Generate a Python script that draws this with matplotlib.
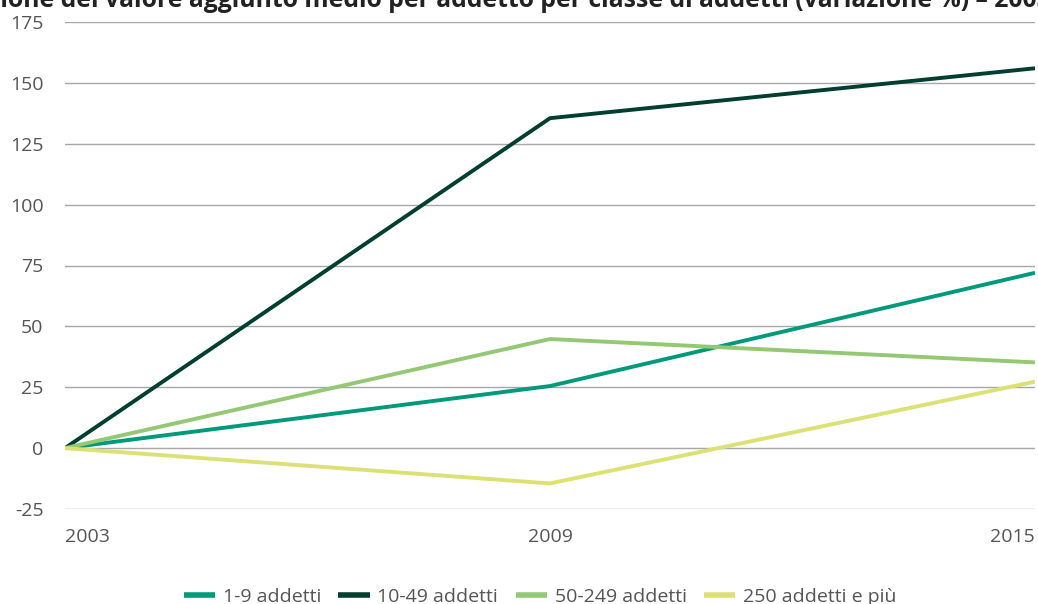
import matplotlib
matplotlib.use("Agg")
import matplotlib.pyplot as plt

plt.rcParams['font.family'] = ['Open Sans', 'DejaVu Sans']

years = [2003, 2009, 2015]
series_names = ["1-9 addetti", "10-49 addetti", "50-249 addetti", "250 addetti e più"]
s_1_9 = [0, 25.5, 72]
s_10_49 = [0, 135.5, 156]
s_50_249 = [0, 44.8, 35.2]
s_250 = [0, -14.5, 27.3]
colors = ["#00997A", "#003E2F", "#94C874", "#DCE176"]
yticks = [-25, 0, 25, 50, 75, 100, 125, 150, 175]
title_prefix = "Evoluz"
title_visible = "ione del valore aggiunto medio per addetto per classe di addetti (variazione %) – 200"
title_suffix = "3-2015"
title = title_prefix + title_visible + title_suffix

W, H = 1038, 604
fig = plt.figure(figsize=(W / 100, H / 100), dpi=100)
ax = fig.add_axes([65 / W, 1 - 509 / H, 970 / W, 487 / H])

for vals, name, c in zip([s_1_9, s_10_49, s_50_249, s_250], series_names, colors):
    ax.plot(years, vals, color=c, lw=2.8, label=name, solid_capstyle='butt', zorder=3)

ax.set_xlim(2003, 2015)
ax.set_ylim(-25, 175)
ax.set_yticks(yticks)
ax.set_yticklabels([str(t) for t in yticks])
ax.set_xticks(years)
ax.set_xticklabels([str(y) for y in years])
for lab, ha in zip(ax.get_xticklabels(), ["left", "center", "right"]):
    lab.set_ha(ha)
ax.grid(axis='y', color='#a8a8a8', lw=1.0)
ax.grid(axis='x', visible=False)
for s in ax.spines.values():
    s.set_visible(False)
ax.tick_params(axis='both', length=0, labelsize=14, colors='#555555')
ax.tick_params(axis='y', pad=15.5)
ax.tick_params(axis='x', pad=13.5)

# title, cropped at both sides as in the reference
fig.canvas.draw()
renderer = fig.canvas.get_renderer()
probe = fig.text(0, 0, title_visible, fontsize=10, fontweight='bold')
pw = probe.get_window_extent(renderer).width
probe.remove()
tsize = 10 * W / pw
probe = fig.text(0, 0, title_prefix, fontsize=tsize, fontweight='bold')
prefw = probe.get_window_extent(renderer).width
probe.remove()
fig.text(-prefw / W, 1 - 7 / H, title, fontsize=tsize, fontweight='bold',
         color='#222222', ha='left', va='baseline')

leg = fig.legend(loc='center', bbox_to_anchor=(540 / W, 1 - 597 / H), ncol=4, frameon=False,
                 fontsize=14, handlelength=1.6, handletextpad=0.4, columnspacing=0.9,
                 borderpad=0, borderaxespad=0)
for t in leg.get_texts():
    t.set_color('#555555')
for h in leg.legend_handles:
    h.set_linewidth(4)

fig.savefig("out.png", dpi=100)
